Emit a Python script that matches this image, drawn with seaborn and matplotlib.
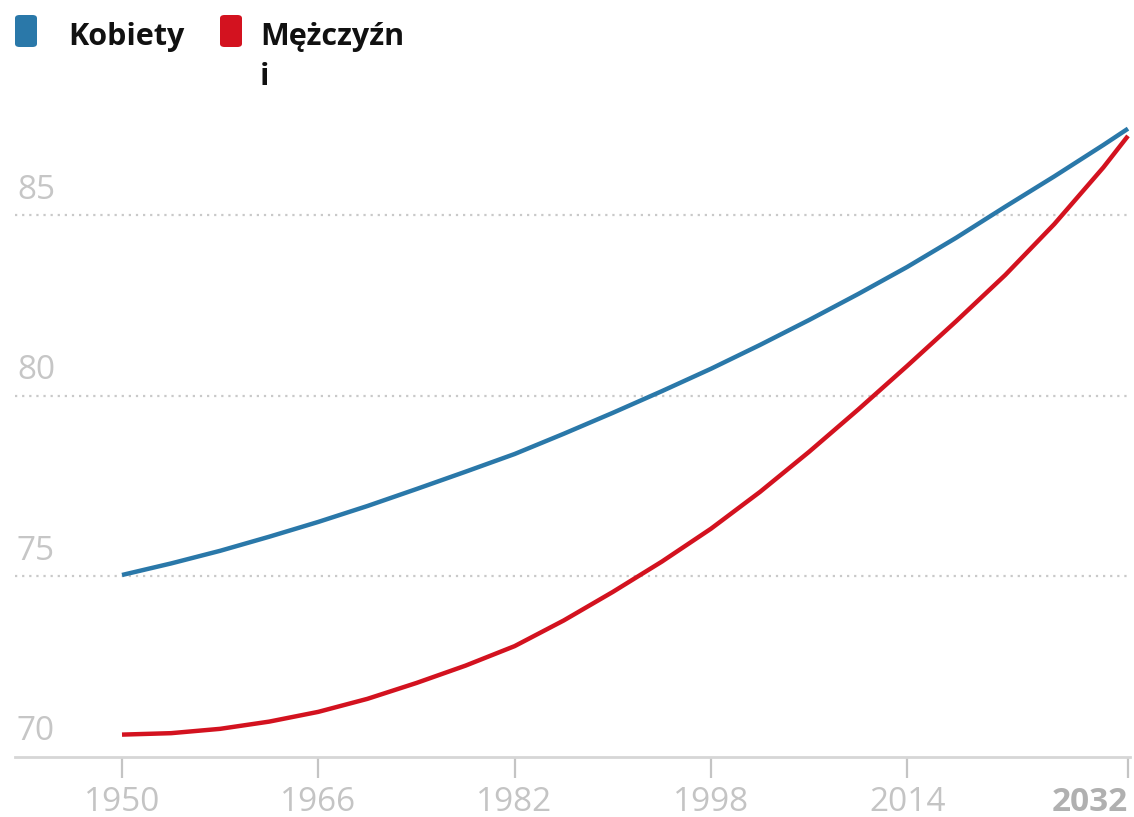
import matplotlib
matplotlib.use("Agg")
import matplotlib.pyplot as plt
import matplotlib.patches as mpatches
import seaborn as sns
import pandas as pd

# --- data ---
years = [1950, 1954, 1958, 1962, 1966, 1970, 1974, 1978, 1982, 1986, 1990,
         1994, 1998, 2002, 2006, 2010, 2014, 2018, 2022, 2026, 2030, 2032]
kobiety = [75.04, 75.36, 75.71, 76.10, 76.51, 76.95, 77.42, 77.90, 78.39, 78.95, 79.53,
           80.13, 80.75, 81.41, 82.10, 82.82, 83.57, 84.38, 85.24, 86.08, 86.95, 87.40]
mezczyzni = [70.62, 70.66, 70.78, 70.98, 71.25, 71.61, 72.05, 72.53, 73.07, 73.78, 74.57,
             75.41, 76.32, 77.34, 78.45, 79.62, 80.83, 82.07, 83.35, 84.76, 86.33, 87.20]
series_names = ["Kobiety", "Mężczyźni"]
legend_labels = ["Kobiety", "Mężczyźn\ni"]
xtick_years = [1950, 1966, 1982, 1998, 2014, 2032]
ytick_values = [70, 75, 80, 85]
colors = {"Kobiety": "#2a78a9", "Mężczyźni": "#d3121f"}

df = pd.DataFrame({
    "rok": years * 2,
    "wartość": kobiety + mezczyzni,
    "płeć": [series_names[0]] * len(years) + [series_names[1]] * len(years),
})

sns.set_theme(style="white")
plt.rcParams["font.family"] = ["Open Sans", "DejaVu Sans"]

W, H = 1134, 817
fig = plt.figure(figsize=(W / 100, H / 100), dpi=100)
ax = fig.add_axes([15 / W, 60 / H, 1115 / W, 650 / H])

sns.lineplot(data=df, x="rok", y="wartość", hue="płeć", palette=colors,
             linewidth=3.2, legend=False, ax=ax, solid_capstyle="butt")

ax.set_xlim(1950 - 107 / 12.268, 2032 + 2 / 12.268)
ax.set_ylim(70, 88)

# grid (dotted) lines
for v in ytick_values[1:]:
    ax.axhline(v, color="#c9c9c9", lw=1.6, ls=(0, (1, 2.2)), zorder=0)

# y labels sitting above gridlines
ax.set_yticks([])
for v in ytick_values:
    ax.text(2 / 1115, v + 0.46, str(v), transform=ax.get_yaxis_transform(),
            ha="left", va="baseline", fontsize=24, color="#c6c6c6")

# x axis
ax.set_xticks(xtick_years)
ax.set_xticklabels([str(y) for y in xtick_years])
ax.tick_params(axis="x", length=15, width=1.6, color="#c4c4c4", pad=6,
               labelsize=24, labelcolor="#c4c4c4", direction="out", bottom=True)
labels = ax.get_xticklabels()
labels[-1].set_ha("right")
labels[-1].set_fontweight("bold")
labels[-1].set_color("#b0b0b0")

for s in ["top", "left", "right"]:
    ax.spines[s].set_visible(False)
ax.spines["bottom"].set_color("#d6d6d6")
ax.spines["bottom"].set_linewidth(2)
ax.set_xlabel("")
ax.set_ylabel("")

# legend (manual, figure pixel coords)
def px(x, y):
    return x / W, 1 - y / H

for (x0, name, lab, tx) in [(15, series_names[0], legend_labels[0], 68),
                            (220, series_names[1], legend_labels[1], 260)]:
    bx, by = px(x0, 47)
    patch = mpatches.FancyBboxPatch((bx, by), 22 / W, 32 / H,
                                    boxstyle="round,pad=0,rounding_size=0.004",
                                    transform=fig.transFigure,
                                    facecolor=colors[name], edgecolor="none")
    fig.patches.append(patch)
    tx_f, ty_f = px(tx, 22)
    fig.text(tx_f, ty_f, lab, ha="left", va="top", fontsize=22,
             fontweight="bold", color="#111111", linespacing=1.45)

fig.savefig("out.png", dpi=100)
